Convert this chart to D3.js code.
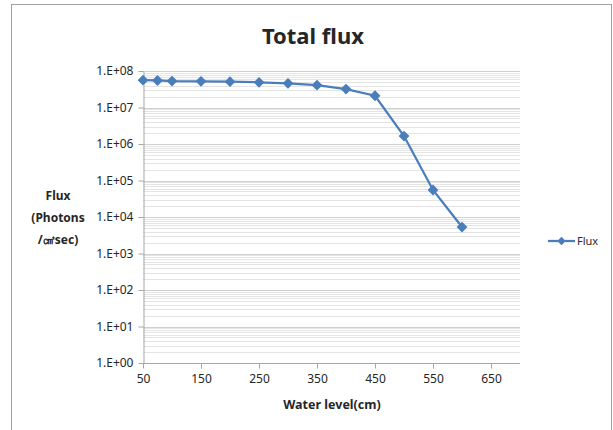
<!DOCTYPE html>
<html>
<head>
<meta charset="utf-8">
<script src="https://cdn.jsdelivr.net/npm/d3@7"></script>
<style>
  body { margin: 0; background: #fff; }
  text { font-family: "Noto Sans", "DejaVu Sans", sans-serif; fill: #262626; }
</style>
</head>
<body>
<div id="chart"></div>
<script>
// water level (cm) and total flux
var waterLevel = [50, 75, 100, 150, 200, 250, 300, 350, 400, 450, 500, 550, 600];
var flux = [5.6e7, 5.5e7, 5.3e7, 5.2e7, 5.1e7, 4.9e7, 4.6e7, 4.1e7, 3.2e7, 2.1e7, 1.65e6, 5.5e4, 5.3e3];
var xTicks = [50, 150, 250, 350, 450, 550, 650];
var yTicks = [1e0, 1e1, 1e2, 1e3, 1e4, 1e5, 1e6, 1e7, 1e8];

var width = 613, height = 430;
var plot = {left: 143, right: 520, top: 71, bottom: 363};

var svg = d3.select('#chart').append('svg')
    .attr('width', width)
    .attr('height', height);

// chart frame
svg.append('rect')
    .attr('x', 11.5).attr('y', 4.5)
    .attr('width', 600).attr('height', 440)
    .attr('fill', 'none')
    .attr('stroke', '#a0a0a0');

var xScale = d3.scaleLinear()
    .domain([50, 700])
    .range([plot.left, plot.right]);

var yScale = d3.scaleLog()
    .domain([1, 1e8])
    .range([plot.bottom, plot.top]);

// minor gridlines (2..9 per decade)
var minor = [];
for (var e = 0; e < 8; e++) {
  for (var m = 2; m <= 9; m++) minor.push(m * Math.pow(10, e));
}
svg.append('g').selectAll('line')
    .data(minor)
    .enter().append('line')
    .attr('x1', plot.left).attr('x2', plot.right)
    .attr('y1', d => Math.round(yScale(d)) + 0.5)
    .attr('y2', d => Math.round(yScale(d)) + 0.5)
    .attr('stroke', '#e4e4e4');

// major gridlines
svg.append('g').selectAll('line')
    .data(yTicks.slice(1))
    .enter().append('line')
    .attr('x1', plot.left).attr('x2', plot.right)
    .attr('y1', d => Math.round(yScale(d)) + 0.5)
    .attr('y2', d => Math.round(yScale(d)) + 0.5)
    .attr('stroke', '#d0d0d0');

var xAxis = d3.axisBottom(xScale)
    .tickValues(xTicks)
    .tickSizeInner(5)
    .tickSizeOuter(0)
    .tickPadding(6);

var yAxis = d3.axisLeft(yScale)
    .tickValues(yTicks)
    .tickFormat(d => '1.E+' + d3.format('02d')(Math.round(Math.log10(d))))
    .tickSizeInner(5)
    .tickSizeOuter(0)
    .tickPadding(5);

var gx = svg.append('g')
    .attr('transform', `translate(0,${plot.bottom + 0.5})`)
    .call(xAxis);
gx.select('.domain').attr('d', `M${plot.left},0H${plot.right}`);

var gy = svg.append('g')
    .attr('transform', `translate(${plot.left + 0.5},0)`)
    .call(yAxis);

svg.selectAll('.domain, .tick line').attr('stroke', '#a6a6a6');
svg.selectAll('.tick text')
    .attr('font-size', 12)
    .attr('font-family', '"Noto Sans", sans-serif')
    .attr('fill', '#262626');

// series
var line = d3.line()
    .x((d, i) => xScale(waterLevel[i]))
    .y(d => yScale(d));

svg.append('path')
    .datum(flux)
    .attr('d', line)
    .attr('fill', 'none')
    .attr('stroke', '#4a7ebb')
    .attr('stroke-width', 2.25);

var diamond = d3.symbol().type(d3.symbolDiamond2).size(75);
svg.append('g').selectAll('path')
    .data(flux)
    .enter().append('path')
    .attr('d', diamond)
    .attr('transform', (d, i) => `translate(${xScale(waterLevel[i])},${yScale(d)})`)
    .attr('fill', '#4a7ebb');

// title
svg.append('text')
    .attr('x', 313).attr('y', 44)
    .attr('text-anchor', 'middle')
    .attr('font-size', 22)
    .attr('font-weight', 'bold')
    .attr('fill', '#000')
    .text('Total flux');

// axis titles
svg.append('text')
    .attr('x', 332).attr('y', 409)
    .attr('text-anchor', 'middle')
    .attr('font-size', 12.5)
    .attr('font-weight', 'bold')
    .text('Water level(cm)');

var yTitle = ['Flux', '(Photons', '/\u33A0sec)'];
svg.append('g').selectAll('text')
    .data(yTitle)
    .enter().append('text')
    .attr('x', 58)
    .attr('y', (d, i) => 200 + i * 22)
    .attr('text-anchor', 'middle')
    .attr('font-size', 12)
    .attr('font-weight', 'bold')
    .text(d => d);

// legend
var legend = svg.append('g').attr('transform', 'translate(548,241)');
legend.append('line')
    .attr('x1', 0).attr('x2', 27)
    .attr('stroke', '#4a7ebb')
    .attr('stroke-width', 2.25);
legend.append('path')
    .attr('d', d3.symbol().type(d3.symbolDiamond2).size(45))
    .attr('transform', 'translate(13.5,0)')
    .attr('fill', '#4a7ebb');
legend.append('text')
    .attr('x', 29).attr('y', 4)
    .attr('font-size', 11)
    .text('Flux');
</script>
</body>
</html>
